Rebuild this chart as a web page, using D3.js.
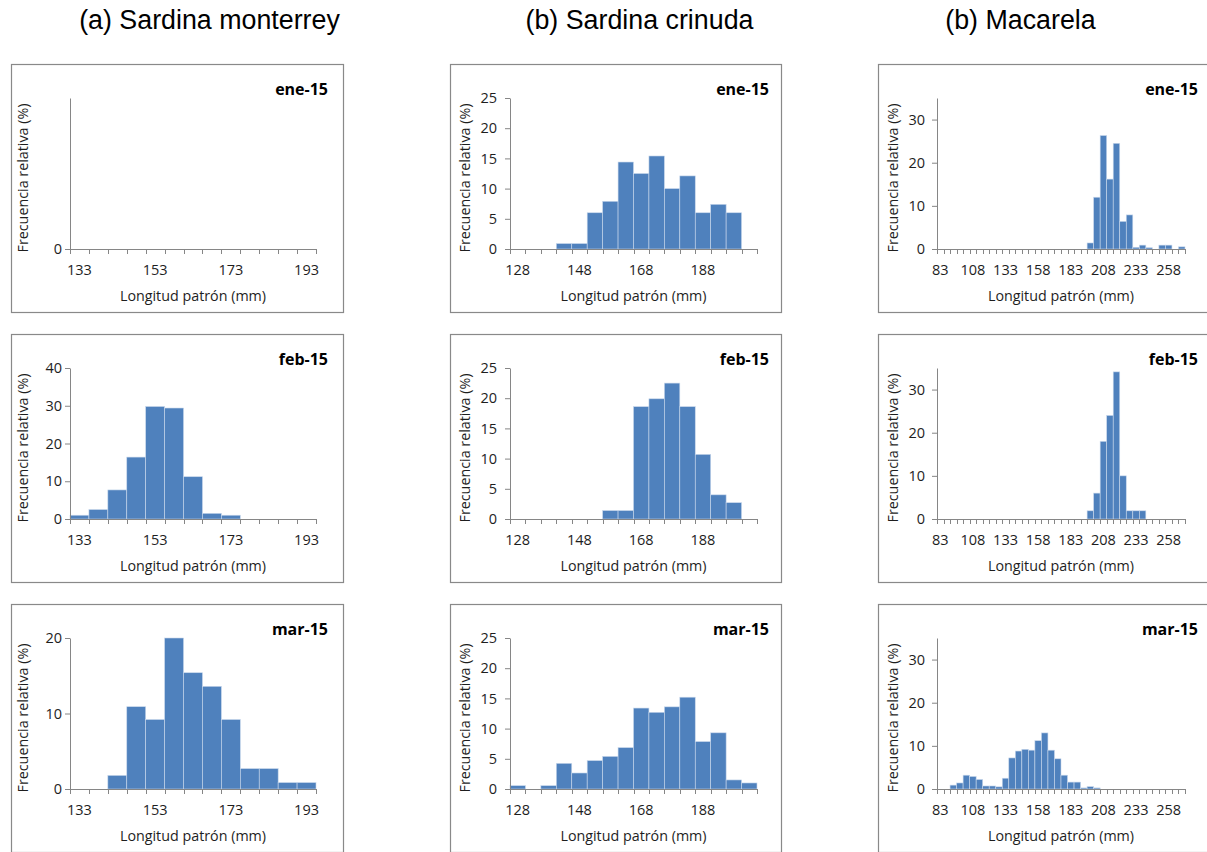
<!DOCTYPE html>
<html><head><meta charset="utf-8">
<script src="https://cdn.jsdelivr.net/npm/d3@7"></script>
<style>body{margin:0;background:#fff} svg{display:block}</style>
</head><body>
<svg id="c" width="1207" height="852"></svg>
<script>
// ---- data ----
const titles = ["(a) Sardina monterrey", "(b) Sardina crinuda", "(b) Macarela"];
const months = ["ene-15", "feb-15", "mar-15"];

const monterreyBins = [133,138,143,148,153,158,163,168,173,178,183,188,193];
const monterreyTicks = [133,153,173,193];
const monterreyEne = [0,0,0,0,0,0,0,0,0,0,0,0,0];
const monterreyFeb = [1.0,2.5,7.7,16.4,29.8,29.4,11.2,1.5,1.0,0,0,0,0];
const monterreyMar = [0,0,1.8,10.9,9.2,20.0,15.4,13.6,9.2,2.7,2.7,0.85,0.85];
const monterreyYMax = [1, 40, 20];
const monterreyYTicks = [[0],[0,10,20,30,40],[0,10,20]];

const crinudaBins = [128,133,138,143,148,153,158,163,168,173,178,183,188,193,198,203];
const crinudaTicks = [128,148,168,188];
const crinudaEne = [0,0,0,0.9,0.9,6.0,7.9,14.4,12.5,15.4,10.0,12.1,6.0,7.4,6.0,0];
const crinudaFeb = [0,0,0,0,0,0,1.4,1.4,18.6,19.9,22.5,18.6,10.7,4.0,2.7,0];
const crinudaMar = [0.55,0,0.55,4.25,2.65,4.7,5.4,6.85,13.4,12.7,13.6,15.2,7.85,9.3,1.5,1.0];
const crinudaYMax = [25, 25, 25];
const crinudaYTicks = [[0,5,10,15,20,25],[0,5,10,15,20,25],[0,5,10,15,20,25]];

const macarelaBins = [83,88,93,98,103,108,113,118,123,128,133,138,143,148,153,158,163,168,173,178,
                      183,188,193,198,203,208,213,218,223,228,233,238,243,248,253,258,263,268];
const macarelaTicks = [83,108,133,158,183,208,233,258];
const macarelaEne = [0,0,0,0,0,0,0,0,0,0,0,0,0,0,0,0,0,0,0,0,
                     0,0,0,1.4,12.0,26.3,16.2,24.5,6.4,7.9,0.4,0.9,0.3,0,0.9,0.9,0,0.5];
const macarelaFeb = [0,0,0,0,0,0,0,0,0,0,0,0,0,0,0,0,0,0,0,0,
                     0,0,0,1.9,6.0,18.0,24.0,34.1,10.0,1.9,1.9,1.9,0,0,0,0,0,0];
const macarelaMar = [0,0,0.9,1.4,3.2,2.9,2.2,0.7,0.7,0.5,2.5,7.2,8.8,9.2,9.0,11.2,13.0,9.0,7.0,3.2,
                     1.6,1.6,0.25,0.55,0.25,0,0,0,0,0,0,0,0,0,0,0,0,0];
const macarelaYMax = [35, 35, 35];
const macarelaYTicks = [[0,10,20,30],[0,10,20,30],[0,10,20,30]];

const columns = [
  {bins: monterreyBins, ticks: monterreyTicks, series: [monterreyEne, monterreyFeb, monterreyMar], ymax: monterreyYMax, yticks: monterreyYTicks},
  {bins: crinudaBins, ticks: crinudaTicks, series: [crinudaEne, crinudaFeb, crinudaMar], ymax: crinudaYMax, yticks: crinudaYTicks},
  {bins: macarelaBins, ticks: macarelaTicks, series: [macarelaEne, macarelaFeb, macarelaMar], ymax: macarelaYMax, yticks: macarelaYTicks}
];

// ---- layout ----
const colLeft = [11, 450, 878];
const colWidth = [332, 331, 331];
const colTitleX = [209.5, 639.5, 1020.5];
const plotL = [59, 60, 59];
const plotR = [305, 307, 307];
const yLabGap = [8, 13, 12];
const monthInset = [15, 12, 11];
const rowTop = [64, 334, 604];
const boxH = 248;
const plotT = 34, plotB = 185;

const FONT = "'Open Sans', sans-serif";
const BAR = "#4f81bd";
const AXIS = "#868686";
const TXT = "#1e1e1e";

const svg = d3.select("#c");

titles.forEach((t, c) => {
  svg.append("text").attr("x", colTitleX[c]).attr("y", 29)
    .attr("text-anchor", "middle")
    .style("font-family", "'Liberation Sans', Arial, sans-serif")
    .style("font-size", "26.8px").style("fill", "#000").text(t);
});

columns.forEach((col, c) => {
  months.forEach((m, r) => {
    const bx = colLeft[c], by = rowTop[r];
    const g = svg.append("g");
    g.append("rect").attr("x", bx + 0.5).attr("y", by + 0.5)
      .attr("width", colWidth[c]).attr("height", boxH)
      .attr("fill", "#fff").attr("stroke", "#898989").attr("stroke-width", 1.2);

    const x0 = bx + plotL[c], x1 = bx + plotR[c];
    const y0 = by + plotB, y1 = by + plotT;
    const x = d3.scaleBand().domain(col.bins).range([x0, x1]).padding(0);
    const y = d3.scaleLinear().domain([0, col.ymax[r]]).range([y0, y1]);
    const vals = col.series[r];

    // bars
    g.append("g").selectAll("rect")
      .data(col.bins.map((b, i) => ({b, v: vals[i]})).filter(d => d.v > 0))
      .join("rect")
      .attr("x", d => x(d.b)).attr("width", x.bandwidth())
      .attr("y", d => y(d.v)).attr("height", d => y(0) - y(d.v))
      .attr("fill", BAR).attr("stroke", "#c9d8ec").attr("stroke-width", 0.6);

    // y axis
    const ya = g.append("g").attr("transform", `translate(${x0},0)`)
      .call(d3.axisLeft(y).tickValues(col.yticks[r]).tickFormat(d3.format("d"))
        .tickSize(5).tickSizeOuter(0).tickPadding(yLabGap[c] - 5));
    ya.select(".domain").attr("stroke", AXIS);
    ya.selectAll(".tick line").attr("stroke", AXIS);
    ya.selectAll(".tick text").style("font-family", FONT).style("font-size", "14.5px").attr("fill", TXT);

    // x axis
    const xa = g.append("g").attr("transform", `translate(0,${y0})`)
      .call(d3.axisBottom(x).tickValues(col.ticks).tickSize(0).tickSizeOuter(0).tickPadding(16));
    xa.select(".domain").attr("stroke", AXIS);
    xa.selectAll(".tick text").style("font-family", FONT).style("font-size", "14.5px").attr("fill", TXT);
    // boundary tick marks
    const bounds = col.bins.map(b => x(b)).concat([x.range()[1]]);
    xa.append("g").selectAll("line").data(bounds).join("line")
      .attr("x1", d => Math.round(d) + 0.5).attr("x2", d => Math.round(d) + 0.5)
      .attr("y1", 0).attr("y2", 5).attr("stroke", AXIS);

    // axis titles
    g.append("text").attr("x", (x0 + x1) / 2).attr("y", y0 + 51.5)
      .attr("text-anchor", "middle").style("font-family", FONT).style("font-size", "14.3px")
      .attr("fill", TXT).text("Longitud patrón (mm)");
    const ytx = bx + (c === 0 ? 12.3 : 15.3), yty = by + 114;
    g.append("text").attr("transform", `translate(${ytx + 5},${yty}) rotate(-90)`)
      .attr("text-anchor", "middle").style("font-family", FONT).style("font-size", "14.3px")
      .attr("fill", TXT).text("Frecuencia relativa (%)");

    // month label
    g.append("text").attr("x", bx + colWidth[c] - monthInset[c]).attr("y", by + 31)
      .attr("text-anchor", "end").style("font-family", FONT).style("font-size", "16px")
      .style("font-weight", "bold").attr("fill", "#000").text(m);
  });
});
</script>
</body></html>
